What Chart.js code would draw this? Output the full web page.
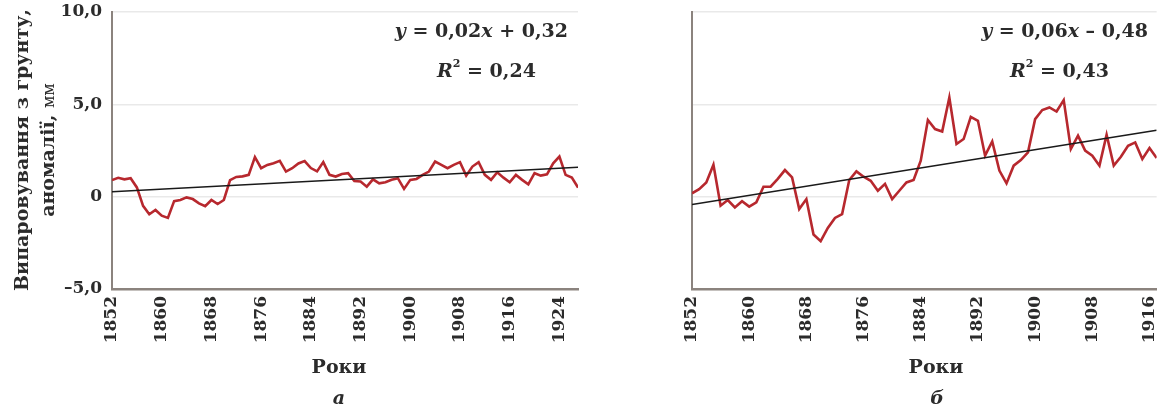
<!DOCTYPE html>
<html lang="uk">
<head>
  <meta charset="UTF-8" />
  <title>Випаровування з грунту</title>
  <script src="https://cdn.jsdelivr.net/npm/chart.js"></script>
  <style>
    body {
      margin: 0;
      background: #ffffff;
      width: 1165px;
      height: 412px;
      overflow: hidden;
      position: relative;
      font-family: 'DejaVu Serif', serif;
      color: #2b2b2b;
    }
    canvas { position: absolute; top: 0; }
    #chartA { left: 0; }
    #chartB { left: 600px; }
    .txt { position: absolute; font-weight: bold; white-space: nowrap; }
    .eq { font-size: 19px; text-align: right; }
    .r2 { font-size: 19px; }
    .r2 sup { font-size: 11px; position: relative; top: -3px; }
    .axis-x { font-size: 19px; transform: translateX(-50%); }
    .letter { font-size: 19px; font-style: italic; transform: translateX(-50%); }
    #ytitle {
      position: absolute;
      left: 35px;
      top: 150px;
      transform: translate(-50%, -50%) rotate(-90deg);
      text-align: center;
      font-weight: bold;
      font-size: 19px;
      line-height: 26px;
      white-space: nowrap;
    }
    #ytitle .mm { font-weight: normal; font-size: 16px; }
  </style>
</head>
<body>
  <canvas id="chartA" width="587" height="360"></canvas>
  <canvas id="chartB" width="577" height="360"></canvas>

  <div id="ytitle">Випаровування з грунту,<br>аномалії, <span class="mm">мм</span></div>

  <div class="txt eq" style="right:597px; top:19px;"><i>y</i> = 0,02<i>x</i> + 0,32</div>
  <div class="txt r2" style="left:437px; top:59px;"><i>R</i><sup>2</sup> = 0,24</div>
  <div class="txt eq" style="right:17px; top:19px;"><i>y</i> = 0,06<i>x</i> – 0,48</div>
  <div class="txt r2" style="left:1010px; top:59px;"><i>R</i><sup>2</sup> = 0,43</div>

  <div class="txt axis-x" style="left:339px; top:355px;">Роки</div>
  <div class="txt axis-x" style="left:936px; top:355px;">Роки</div>
  <div class="txt letter" style="left:339px; top:386px;">а</div>
  <div class="txt letter" style="left:937px; top:386px;">б</div>

  <script>
    // роки
    const firstYear = 1852;
    const tickYearsA = [1852, 1860, 1868, 1876, 1884, 1892, 1900, 1908, 1916, 1924];
    const tickYearsB = [1852, 1860, 1868, 1876, 1884, 1892, 1900, 1908, 1916];
    const yTicks = [-5, 0, 5, 10];

    // аномалії, мм (а)
    const valuesA = [0.9, 1.02, 0.94, 1.0, 0.5, -0.5, -0.95, -0.72, -1.03, -1.15,
      -0.24, -0.18, -0.04, -0.13, -0.36, -0.52, -0.18, -0.4, -0.18, 0.9,
      1.07, 1.1, 1.18, 2.14, 1.54, 1.72, 1.81, 1.94, 1.36, 1.54,
      1.8, 1.93, 1.55, 1.37, 1.87, 1.18, 1.09, 1.23, 1.27, 0.85,
      0.82, 0.54, 0.94, 0.72, 0.78, 0.91, 1.0, 0.42, 0.91, 0.96,
      1.18, 1.36, 1.9, 1.72, 1.54, 1.72, 1.87, 1.14, 1.63, 1.87,
      1.18, 0.91, 1.32, 1.03, 0.78, 1.18, 0.91, 0.67, 1.27, 1.14,
      1.21, 1.81, 2.17, 1.18, 1.03, 0.49];

    // аномалії, мм (б)
    const valuesB = [0.18, 0.41, 0.77, 1.73, -0.49, -0.18, -0.58, -0.25, -0.54, -0.31,
      0.54, 0.54, 0.96, 1.44, 1.04, -0.67, -0.13, -2.05, -2.41, -1.69,
      -1.15, -0.94, 0.9, 1.37, 1.08, 0.86, 0.32, 0.69, -0.13, 0.32,
      0.77, 0.9, 1.95, 4.15, 3.66, 3.53, 5.37, 2.85, 3.12, 4.32,
      4.11, 2.22, 2.99, 1.41, 0.72, 1.68, 1.98, 2.4, 4.2, 4.69,
      4.83, 4.61, 5.23, 2.58, 3.3, 2.49, 2.22, 1.68, 3.35, 1.68,
      2.16, 2.76, 2.94, 2.04, 2.63, 2.09];

    // лінії тренду: значення на початку і в кінці ряду
    const trendA = [0.27, 1.59];
    const trendB = [-0.43, 3.6];

    const redColor = '#b7282e';
    const axisColor = '#8b837e';
    const gridColor = '#e9e9e9';
    const tickFont = { family: 'DejaVu Serif', weight: 'bold', size: 17 };

    function points(values) {
      return values.map((v, i) => ({ x: firstYear + i, y: v }));
    }

    function trendPoints(values, trend) {
      const lastYear = firstYear + values.length - 1;
      return [{ x: firstYear, y: trend[0] }, { x: lastYear, y: trend[1] }];
    }

    function fmt(v) {
      if (v === 0) return '0';
      return (v < 0 ? '–' : '') + Math.abs(v).toFixed(1).replace('.', ',');
    }

    function makeChart(id, values, trend, tickYears, yAxisWidth, showYLabels, rightPad) {
      const lastYear = firstYear + values.length - 1;
      return new Chart(document.getElementById(id), {
        type: 'line',
        data: {
          datasets: [{
            data: points(values),
            borderColor: redColor,
            borderWidth: 2.6,
            pointRadius: 0,
            tension: 0,
            order: 2
          }, {
            data: trendPoints(values, trend),
            borderColor: '#1a1a1a',
            borderWidth: 1.5,
            pointRadius: 0,
            order: 1
          }]
        },
        options: {
          responsive: false,
          animation: false,
          layout: { padding: { top: 12, right: rightPad, left: 0, bottom: 0 } },
          plugins: { legend: { display: false }, tooltip: { enabled: false } },
          scales: {
            x: {
              type: 'linear',
              min: firstYear,
              max: lastYear,
              afterBuildTicks: s => { s.ticks = tickYears.map(v => ({ value: v })); },
              afterFit: s => { s.height = 71; },
              ticks: {
                minRotation: 90,
                maxRotation: 90,
                autoSkip: false,
                padding: 7,
                color: '#2b2b2b',
                font: tickFont,
                callback: v => String(v)
              },
              grid: { display: false, drawTicks: false },
              border: { display: true, color: axisColor, width: 2.5 }
            },
            y: {
              min: -5,
              max: 10,
              afterBuildTicks: s => { s.ticks = yTicks.map(v => ({ value: v })); },
              afterFit: s => { s.width = yAxisWidth; s.paddingTop = 0; s.paddingBottom = 0; },
              ticks: {
                display: showYLabels,
                padding: 10,
                color: '#2b2b2b',
                font: tickFont,
                callback: v => fmt(v)
              },
              grid: { color: gridColor, lineWidth: 1.5, drawTicks: false },
              border: { display: true, color: axisColor, width: 2 }
            }
          }
        }
      });
    }

    makeChart('chartA', valuesA, trendA, tickYearsA, 112, true, 5);
    makeChart('chartB', valuesB, trendB, tickYearsB, 92, false, 7);
  </script>
</body>
</html>
